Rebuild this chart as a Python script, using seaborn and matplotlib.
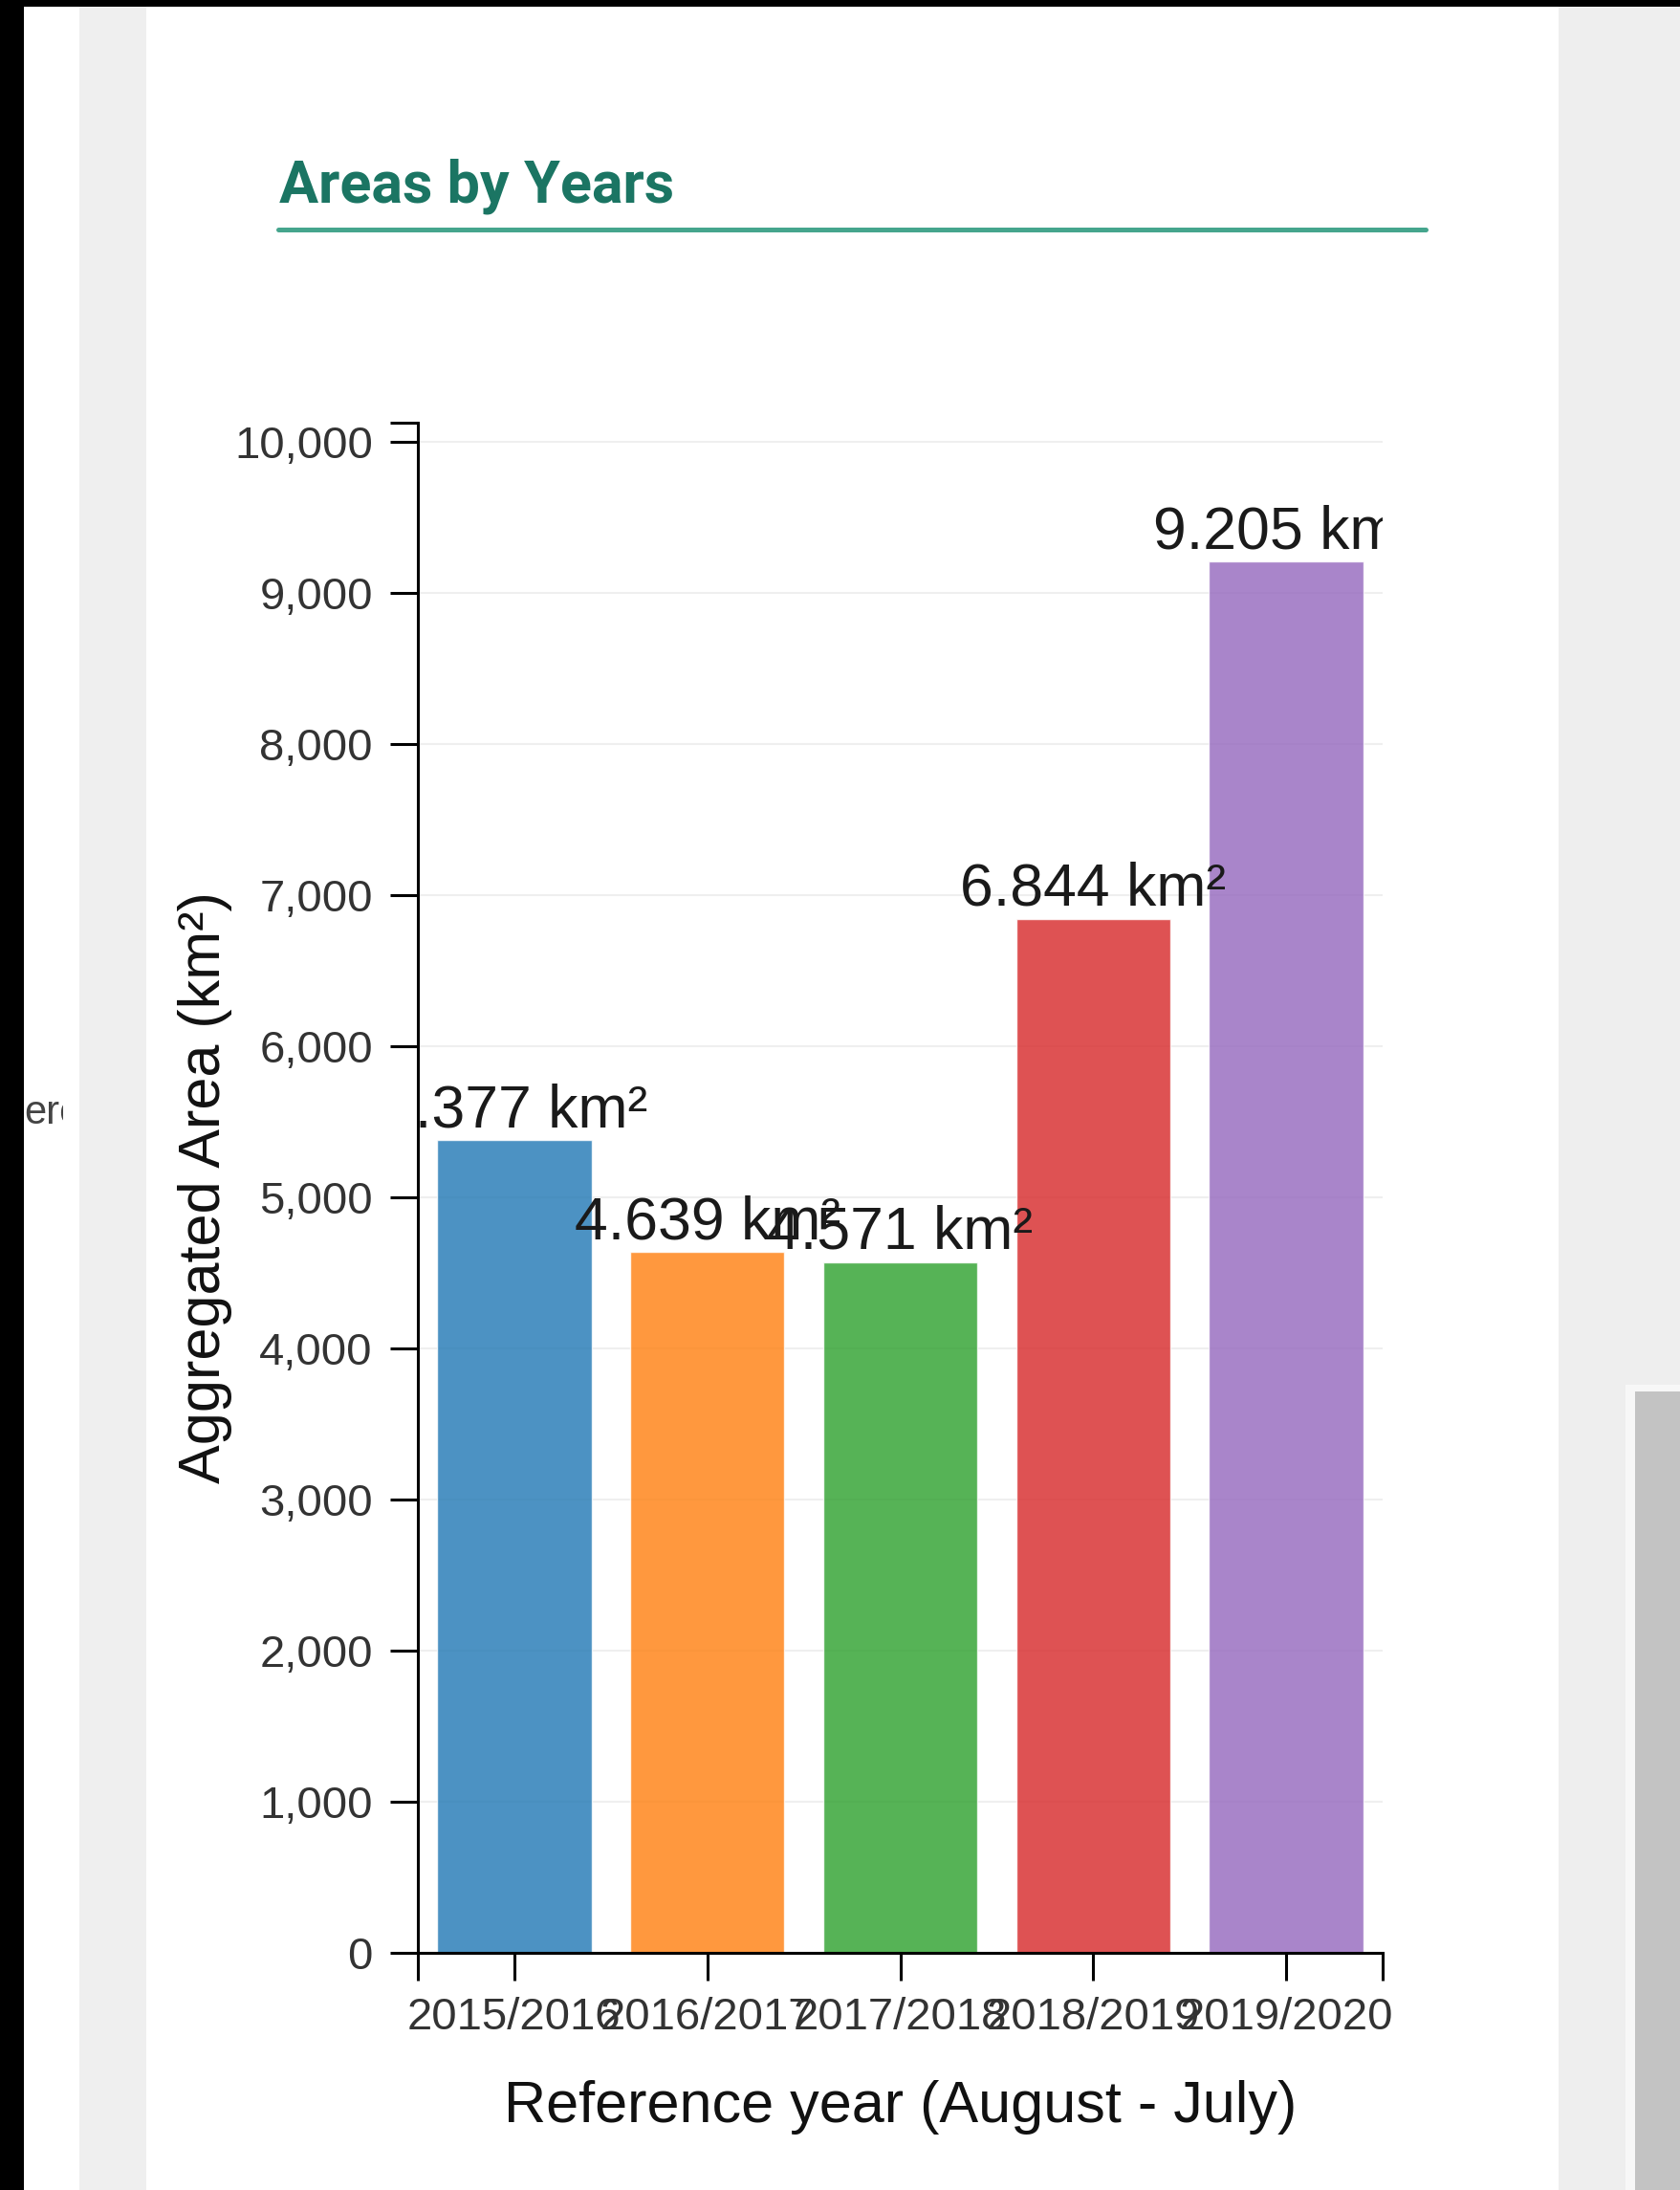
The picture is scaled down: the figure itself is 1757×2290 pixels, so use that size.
"""
Areas by Years - bar chart of aggregated area per reference year.
"""

#Libraries
import matplotlib
matplotlib.use("Agg")
import matplotlib.pyplot as plt
from matplotlib.patches import Rectangle
from matplotlib.lines import Line2D
import seaborn as sns
import pandas as pd

#Data
years = ["2015/2016", "2016/2017", "2017/2018", "2018/2019", "2019/2020"]
areas = [5377, 4639, 4571, 6844, 9205]
y_ticks = [0, 1000, 2000, 3000, 4000, 5000, 6000, 7000, 8000, 9000, 10000]
bar_colors = ["#1f77b4", "#ff7f0e", "#2ca02c", "#d62728", "#9467bd"]

W, H = 1757, 2290

sns.set_style("white")
plt.rcParams['font.family'] = ['Liberation Sans', 'DejaVu Sans']

fig = plt.figure(figsize=(W / 100, H / 100), dpi=100, facecolor="white")

#Page background (screenshot frame)
def px_rect(x0, y0, x1, y1, color):
    fig.patches.append(Rectangle((x0 / W, 1 - y1 / H), (x1 - x0) / W, (y1 - y0) / H,
                                 transform=fig.transFigure, facecolor=color,
                                 edgecolor="none", zorder=0))

px_rect(83, 0, 153, H, "#efefef")
px_rect(1630, 0, W, H, "#eeeeee")
px_rect(1700, 1448, W, H, "#f7f7f7")
px_rect(1710, 1455, W, H, "#c3c3c3")
px_rect(0, 0, 25, H, "black")
px_rect(0, 0, W, 7, "black")

#Cut-off text from neighbouring panel
frag = fig.text(25 / W, 1 - 1175 / H, "ere", fontsize=30, color="#444444", va="baseline")
frag.set_clip_path(Rectangle((25 / W, 0), 41 / W, 1, transform=fig.transFigure))

#Title with underline
fig.text(292 / W, 1 - 212 / H, "Areas by Years", fontsize=44, fontweight="bold",
         family=["Roboto", "DejaVu Sans"], color="#1b7563", va="baseline")
fig.lines.append(Line2D([291 / W, 1491 / W], [1 - 240 / H, 1 - 240 / H],
                        transform=fig.transFigure, color="#45a58d", lw=3.6))

#Chart
ax = fig.add_axes([437 / W, 1 - 2042 / H, 1009 / W, 1600 / H])
ax.set_facecolor("none")

df = pd.DataFrame({"year": years, "area": areas})
sns.barplot(data=df, x="year", y="area", hue="year", palette=bar_colors, legend=False,
            saturation=1, alpha=0.8, width=0.8, ax=ax, zorder=2)

ax.set_xlim(-0.5, len(years) - 0.5)
ax.set_ylim(0, max(areas) * 1.1)

ax.set_yticks(y_ticks)
ax.set_yticklabels([f"{t:,}" for t in y_ticks])
ax.set_yticks([max(areas) * 1.1], minor=True)
ax.set_xticks([-0.5, len(years) - 0.5], minor=True)

for t in y_ticks:
    ax.axhline(t, color="#efefef", lw=1.5, zorder=0)

for s in ["top", "right"]:
    ax.spines[s].set_visible(False)
for s in ["left", "bottom"]:
    ax.spines[s].set_linewidth(2.2)
    ax.spines[s].set_color("black")

ax.tick_params(axis="both", which="both", direction="out", length=21, width=2.2,
               color="black", labelsize=34, labelcolor="#333333",
               bottom=True, left=True, top=False, right=False)
ax.tick_params(axis="y", pad=13)
ax.tick_params(axis="x", pad=12)

#Value labels over bars
for i, v in enumerate(areas):
    ax.annotate(f"{v:,}".replace(",", ".") + " km²", (i, v), xytext=(0, 10),
                textcoords="offset points", ha="center", va="baseline",
                fontsize=45, color="#1a1a1a", clip_on=True, zorder=3)

ax.set_xlabel("Reference year (August - July)", fontsize=44, color="#111111")
ax.set_ylabel("Aggregated Area (km²)", fontsize=44, color="#111111")
ax.xaxis.set_label_coords(0.5, -0.083)
ax.yaxis.set_label_coords(-0.192, 0.5)

fig.savefig("out.png", dpi=100, facecolor="white")
